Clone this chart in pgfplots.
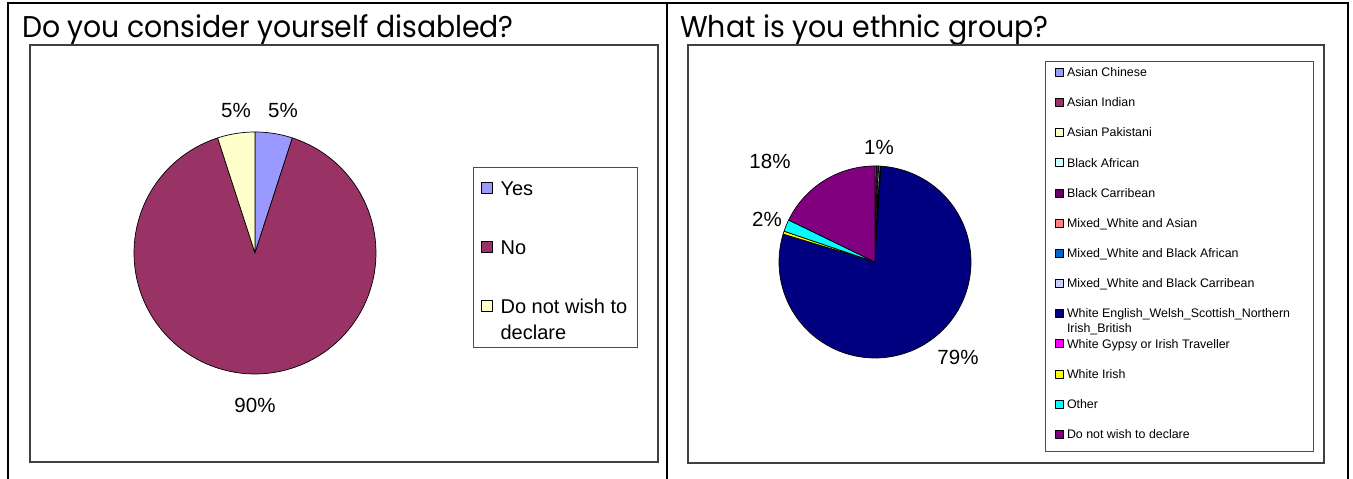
\documentclass[border=0pt]{standalone}
\usepackage{fontspec}
\setmainfont{Liberation Sans}
\newfontfamily\titlefont{Poppins}
\usepackage{graphicx}
\usepackage{pgfplots}
\pgfplotsset{compat=1.18}

\definecolor{c1}{HTML}{9999FF}
\definecolor{c2}{HTML}{993366}
\definecolor{c3}{HTML}{FFFFCC}
\definecolor{c4}{HTML}{CCFFFF}
\definecolor{c5}{HTML}{660066}
\definecolor{c6}{HTML}{FF8080}
\definecolor{c7}{HTML}{0066CC}
\definecolor{c8}{HTML}{CCCCFF}
\definecolor{c9}{HTML}{000080}
\definecolor{c10}{HTML}{FF00FF}
\definecolor{c11}{HTML}{FFFF00}
\definecolor{c12}{HTML}{00FFFF}
\definecolor{c13}{HTML}{800080}

% #1 start (percent, cumulative), #2 value (percent), #3 colour, #4 radius
\newcommand{\pieslice}[4]{%
  \addplot[fill=#3, draw=black, line width=0.7pt, line join=round,
    domain=90-3.6*#1-3.6*#2:90-3.6*#1, samples=120, variable=\t]
    ({#4*cos(\t)},{#4*sin(\t)}) -- (axis cs:0,0) -- cycle;}

\begin{document}
\begin{tikzpicture}
\path[use as bounding box] (0pt,0pt) rectangle (1353pt,479pt);

% outer frame
\draw[line width=2pt] (8pt,0pt) -- (8pt,476pt) -- (1348pt,476pt) -- (1348pt,0pt);
\draw[line width=2pt] (667pt,0pt) -- (667pt,476pt);

% titles
\node[anchor=base west, inner sep=0pt, font=\titlefont\fontsize{30}{34}\selectfont] at (22pt,441pt) {\scalebox{0.943}[1]{Do you consider yourself disabled?}};
\node[anchor=base west, inner sep=0pt, font=\titlefont\fontsize{30}{34}\selectfont] at (680pt,441pt) {\scalebox{0.946}[1]{What is you ethnic group?}};

% ---------------- left pie ----------------
\begin{axis}[
  at={(30pt,17pt)}, anchor=south west,
  width=628pt, height=417pt, scale only axis,
  xmin=-225, xmax=403, ymin=-209, ymax=208,
  xtick=\empty, ytick=\empty, clip=false,
  axis line style={draw=black!75, line width=1.2pt},
  legend image code/.code={\draw[#1,draw=black,line width=0.6pt] (0pt,-5.5pt) rectangle (11pt,5.5pt);},
  legend cell align=left,
  legend style={at={(axis cs:226,72.15)}, anchor=north west, draw=none, fill=none,
    inner sep=0pt, outer sep=0pt, row sep=44.7pt, column sep=8pt,
    font=\fontsize{20}{26}\selectfont,
    nodes={inner sep=0pt, outer sep=0pt, text height=14.3pt, text depth=0pt}},
]
\pieslice{0}{5}{c1}{121}
\addlegendentry{Yes}
\pieslice{5}{90}{c2}{121}
\addlegendentry{No}
\pieslice{95}{5}{c3}{121}
\addlegendentry{\begin{tabular}[t]{@{}l@{}}Do not wish to\\declare\end{tabular}}
\node[font=\fontsize{20.5}{24}\selectfont] at (axis cs:28,143) {5\%};
\node[font=\fontsize{20.5}{24}\selectfont] at (axis cs:-19,143) {5\%};
\node[font=\fontsize{20.5}{24}\selectfont] at (axis cs:0,-152) {90\%};
\end{axis}
\draw[black!70, line width=1pt] (473pt,311pt) rectangle (637pt,131pt);

% ---------------- right pie ----------------
\begin{axis}[
  at={(688pt,16pt)}, anchor=south west,
  width=636pt, height=418pt, scale only axis,
  xmin=-187, xmax=449, ymin=-201, ymax=217,
  xtick=\empty, ytick=\empty, clip=false,
  axis line style={draw=black!75, line width=1.2pt},
  legend image code/.code={\draw[#1,draw=black,line width=0.5pt] (0pt,-4pt) rectangle (8pt,4pt);},
  legend cell align=left,
  legend style={at={(axis cs:180,194.3)}, anchor=north west, draw=none, fill=none,
    inner sep=0pt, outer sep=0pt, row sep=21.3pt, column sep=3.5pt,
    font=\fontsize{12.4}{15}\selectfont,
    nodes={inner sep=0pt, outer sep=0pt, text height=8.87pt, text depth=0pt}},
]
\pieslice{0}{0.25}{c1}{96}
\addlegendentry{Asian Chinese}
\pieslice{0.25}{0.25}{c2}{96}
\addlegendentry{Asian Indian}
\pieslice{0.5}{0.1}{c3}{96}
\addlegendentry{Asian Pakistani}
\pieslice{0.6}{0.25}{c4}{96}
\addlegendentry{Black African}
\pieslice{0.85}{0.15}{c5}{96}
\addlegendentry{Black Carribean}
\addlegendimage{fill=c6}
\addlegendentry{Mixed\_White and Asian}
\addlegendimage{fill=c7}
\addlegendentry{Mixed\_White and Black African}
\addlegendimage{fill=c8}
\addlegendentry{Mixed\_White and Black Carribean}
\pieslice{1}{78.7}{c9}{96}
\addlegendentry{\begin{tabular}[t]{@{}l@{}}White English\_Welsh\_Scottish\_Northern\\Irish\_British\end{tabular}}
\addlegendimage{fill=c10}
\addlegendentry{White Gypsy or Irish Traveller}
\pieslice{79.7}{0.5}{c11}{96}
\addlegendentry{White Irish}
\pieslice{80.2}{2}{c12}{96}
\addlegendentry{Other}
\pieslice{82.2}{17.8}{c13}{96}
\addlegendentry{Do not wish to declare}
\node[font=\fontsize{20.5}{24}\selectfont] at (axis cs:4,115) {1\%};
\node[font=\fontsize{20.5}{24}\selectfont] at (axis cs:-105,101) {18\%};
\node[font=\fontsize{20.5}{24}\selectfont] at (axis cs:-108,43) {2\%};
\node[font=\fontsize{20.5}{24}\selectfont] at (axis cs:83,-95) {79\%};
\end{axis}
\draw[black!70, line width=1pt] (1045pt,417pt) rectangle (1313pt,27pt);
\end{tikzpicture}
\end{document}
